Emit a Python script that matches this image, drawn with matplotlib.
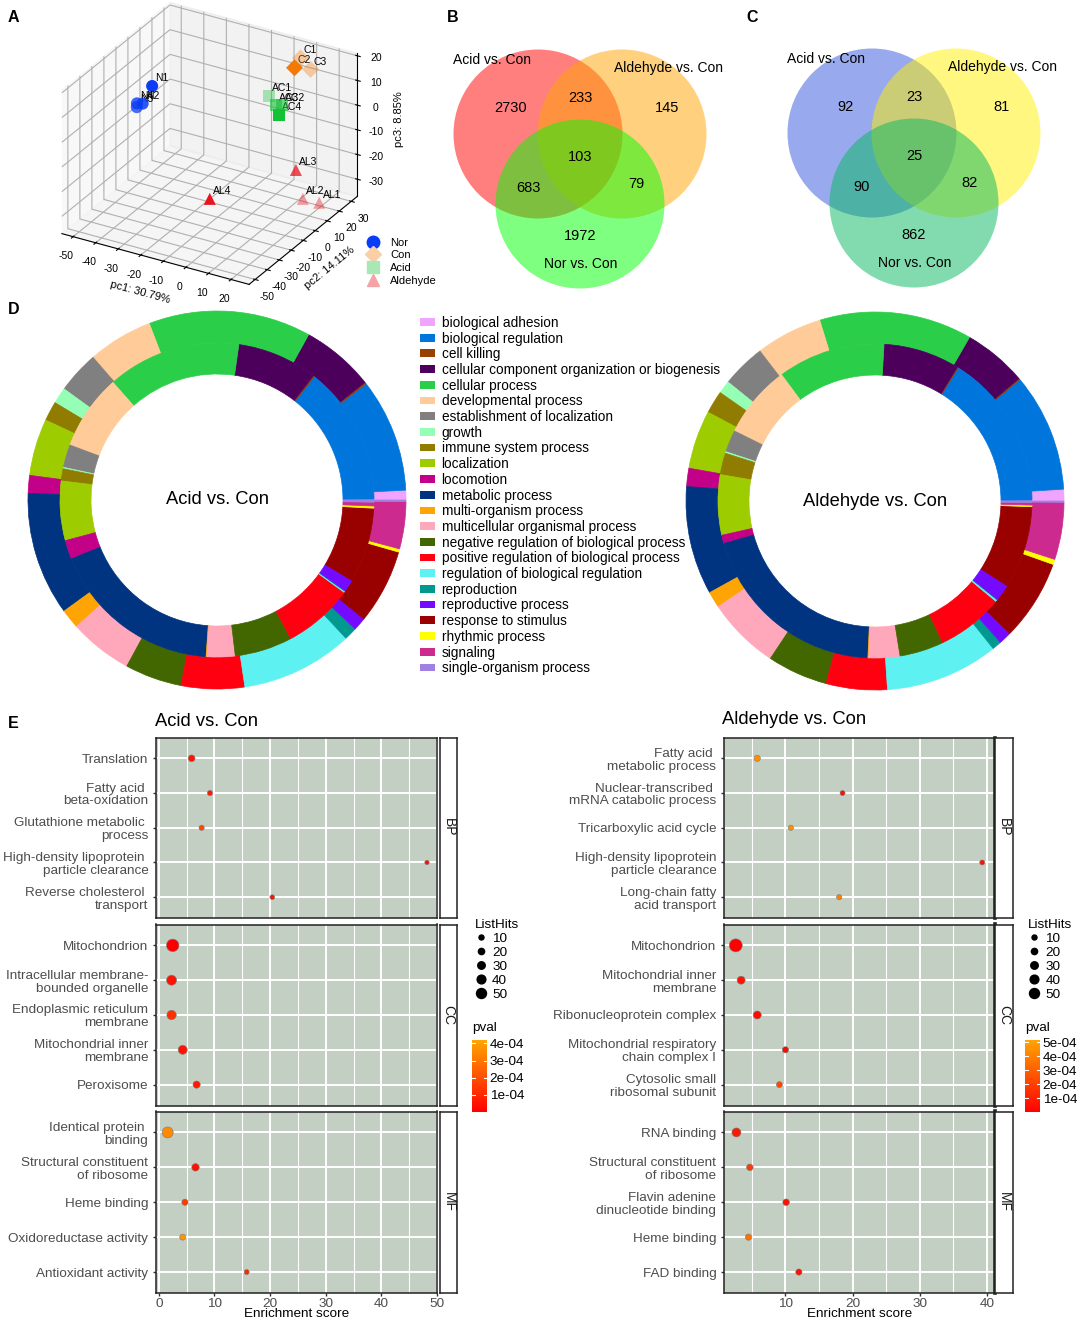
import numpy as np
import matplotlib.pyplot as plt
from matplotlib.patches import Circle, Patch
from matplotlib.lines import Line2D
from matplotlib.colors import LinearSegmentedColormap, Normalize
from matplotlib.cm import ScalarMappable

plt.rcParams['font.family'] = ['Liberation Sans', 'DejaVu Sans']
plt.rcParams['axes.unicode_minus'] = False

W, H = 1084, 1321

# ---------------- data ----------------
# A: PCA scores
nor_names = ['N1', 'N2', 'N3', 'N4']
nor_pc = [(-48, 7, 0), (-49, 1, -5), (-50, -2, -5.5), (-51, 0, -5)]
con_names = ['C1', 'C2', 'C3']
con_pc = [(5, 31, 15), (5, 26, 13), (10, 30, 12)]
acid_names = ['AC1', 'AC2', 'AC3', 'AC4']
acid_pc = [(0, 14, 5), (2, 21, -1), (2, 16, 1), (4, 15, -2)]
ald_names = ['AL1', 'AL2', 'AL3', 'AL4']
ald_pc = [(25, 9, -30), (22, 1, -26), (20, -1, -14), (-15, -7, -32)]

# B, C: Venn counts (A only, A&B, B only, A&B&C, A&C, B&C, C only)
venn_sets = ['Acid vs. Con', 'Aldehyde vs. Con', 'Nor vs. Con']
venn_b = [2730, 233, 145, 103, 683, 79, 1972]
venn_c = [92, 23, 81, 25, 90, 82, 862]

# D: GO level-2 distribution (angular share, degrees)
go_terms = ['biological adhesion', 'biological regulation', 'cell killing',
            'cellular component organization or biogenesis', 'cellular process',
            'developmental process', 'establishment of localization', 'growth',
            'immune system process', 'localization', 'locomotion', 'metabolic process',
            'multi-organism process', 'multicellular organismal process',
            'negative regulation of biological process',
            'positive regulation of biological process',
            'regulation of biological regulation', 'reproduction', 'reproductive process',
            'response to stimulus', 'rhythmic process', 'signaling',
            'single-organism process']
go_colors = ['#F0A3FF', '#0075DC', '#993F00', '#4C005C', '#2BCE48', '#FFCC99',
             '#808080', '#94FFB5', '#8F7C00', '#9DCC00', '#C20088', '#003380',
             '#FFA405', '#FFA8BB', '#426600', '#FF0010', '#5EF1F2', '#00998F',
             '#740AFF', '#990000', '#FFFF00', '#CC2A8F', '#A080E0']
acid_outer = [3.0, 35.0, 0.5, 22.5, 50.0, 20.0, 13.0, 5.0, 6.0, 17.5, 5.5, 38.0,
              6.0, 19.5, 17.5, 19.5, 34.5, 4.0, 4.0, 23.0, 1.0, 14.5, 0.5]
acid_inner = [0.3, 51.4, 0.5, 29.8, 49.5, 28.0, 8.5, 0.5, 4.5, 22.0, 7.0, 64.0,
              0.3, 10.4, 21.3, 26.0, 0.5, 0.2, 4.5, 27.8, 0.8, 1.4, 0.8]
ald_outer = [3.6, 36.4, 0.4, 19.6, 47.0, 20.5, 13.5, 4.0, 7.0, 18.0, 5.6, 33.4,
             5.0, 22.4, 18.6, 18.8, 34.9, 2.9, 3.9, 24.9, 1.6, 17.6, 0.4]
ald_inner = [0.3, 57.7, 0.4, 28.3, 39.8, 27.0, 8.2, 0.6, 8.0, 22.3, 3.1, 71.7,
             0.3, 11.5, 16.4, 24.7, 0.7, 0.2, 6.1, 30.6, 0.6, 0.9, 0.6]

# E: enrichment
acid_ont = ['BP'] * 5 + ['CC'] * 5 + ['MF'] * 5
acid_terms = ['Translation', 'Fatty acid \nbeta-oxidation', 'Glutathione metabolic \nprocess',
              'High-density lipoprotein \nparticle clearance', 'Reverse cholesterol \ntransport',
              'Mitochondrion', 'Intracellular membrane-\nbounded organelle',
              'Endoplasmic reticulum\nmembrane', 'Mitochondrial inner\nmembrane', 'Peroxisome',
              'Identical protein \nbinding', 'Structural constituent\nof ribosome',
              'Heme binding', 'Oxidoreductase activity', 'Antioxidant activity']
acid_score = [5.9, 9.2, 7.7, 48.2, 20.4, 2.5, 2.3, 2.3, 4.3, 6.8, 1.6, 6.6, 4.7, 4.3, 15.8]
acid_hits = [24, 12, 12, 5, 8, 70, 50, 45, 42, 28, 58, 30, 20, 18, 10]
acid_pval = [5e-5, 6e-5, 1.8e-4, 3e-5, 5e-5, 1e-6, 5e-5, 1.2e-4, 5e-5, 6e-5,
             3.5e-4, 4e-5, 1.5e-4, 3.8e-4, 1e-4]

ald_ont = ['BP'] * 5 + ['CC'] * 5 + ['MF'] * 5
ald_terms = ['Fatty acid \nmetabolic process', 'Nuclear-transcribed \nmRNA catabolic process',
             'Tricarboxylic acid cycle', 'High-density lipoprotein\nparticle clearance',
             'Long-chain fatty\nacid transport', 'Mitochondrion', 'Mitochondrial inner\nmembrane',
             'Ribonucleoprotein complex', 'Mitochondrial respiratory\nchain complex I',
             'Cytosolic small\nribosomal subunit', 'RNA binding',
             'Structural constituent\nof ribosome', 'Flavin adenine\ndinucleotide binding',
             'Heme binding', 'FAD binding']
ald_score = [5.8, 18.5, 10.8, 39.3, 18.0, 2.6, 3.4, 5.8, 10.0, 9.1, 2.7, 4.7, 10.1, 4.5, 12.0]
ald_hits = [20, 10, 12, 10, 12, 74, 34, 34, 20, 18, 42, 23, 23, 20, 20]
ald_pval = [4.5e-4, 5e-5, 4.5e-4, 5e-5, 4e-4, 1e-6, 6e-5, 4e-5, 3e-5, 2.2e-4,
            8e-5, 1.8e-4, 5e-5, 3.5e-4, 5e-5]
legend_hits = [10, 20, 30, 40, 50]


def box(x0, y0, x1, y1):
    return [x0 / W, 1 - y1 / H, (x1 - x0) / W, (y1 - y0) / H]


fig = plt.figure(figsize=(W / 100, H / 100), dpi=100)

# overlay axes in pixel coordinates (Venn + panel letters)
ov = fig.add_axes([0, 0, 1, 1])
ov.set_xlim(0, W)
ov.set_ylim(H, 0)
ov.axis('off')
for letter, (lx, ly) in zip('ABCDE', [(8, 17), (447, 17), (746, 17), (8, 310), (8, 723)]):
    ov.text(lx, ly, letter, fontsize=11.5, fontweight='bold', va='center', ha='left')

# ---------------- A: 3D PCA ----------------
ax3 = fig.add_axes(box(-10, -20, 420, 316), projection='3d')
ax3.set_proj_type('ortho')
ax3.view_init(elev=28, azim=-60)
groups = [(nor_names, nor_pc, 'o', '#0A3CF5', [1.0, 0.85, 0.75, 0.8]),
          (con_names, con_pc, 'D', '#F57A05', [0.35, 1.0, 0.35]),
          (acid_names, acid_pc, 's', '#12C235', [0.35, 0.6, 0.6, 1.0]),
          (ald_names, ald_pc, '^', '#E8141E', [0.4, 0.4, 0.75, 1.0])]
for names, pcs, mk, col, shade in groups:
    pcs = np.array(pcs, dtype=float)
    for (x, y, z), nm, a in zip(pcs, names, shade):
        ax3.scatter([x], [y], [z], marker=mk, s=75, color=col, alpha=a,
                    depthshade=False, edgecolors='none')
        ax3.text(x + 1.5, y, z + 1.5, nm, fontsize=7.5, ha='left', va='bottom')
ax3.set_xlim(-55, 28)
ax3.set_ylim(-55, 35)
ax3.set_zlim(-37, 21)
ax3.set_xticks([-50, -40, -30, -20, -10, 0, 10, 20])
ax3.set_yticks([-50, -40, -30, -20, -10, 0, 10, 20, 30])
ax3.set_zticks([-30, -20, -10, 0, 10, 20])
ax3.tick_params(labelsize=7.5, pad=0)
ax3.set_xlabel('pc1: 30.79%', fontsize=8, labelpad=-3)
ax3.set_ylabel('pc2: 14.11%', fontsize=8, labelpad=-3)
ax3.set_zlabel('pc3: 8.85%', fontsize=8, labelpad=-3)
leg_handles = [Line2D([], [], marker='o', ls='', color='#0A3CF5', ms=9),
               Line2D([], [], marker='D', ls='', color='#FBCFA6', ms=8),
               Line2D([], [], marker='s', ls='', color='#A9E8B5', ms=8),
               Line2D([], [], marker='^', ls='', color='#F4A4A7', ms=9)]
fig.legend(leg_handles, ['Nor', 'Con', 'Acid', 'Aldehyde'], loc='upper left',
           bbox_to_anchor=(356 / W, 1 - 232 / H), frameon=False, fontsize=8,
           labelspacing=0.25, handletextpad=0.6, borderpad=0)

# ---------------- B, C: Venn ----------------
def venn(cx, cy, colors, counts, r=84.5):
    centers = [(cx - 42, cy - 35), (cx + 42, cy - 35), (cx, cy + 35)]
    for (x, y), c in zip(centers, colors):
        ov.add_patch(Circle((x, y), r, facecolor=c, alpha=0.5, edgecolor='none'))
    offsets = [(-69, -61), (0, -71), (87, -61), (0, -12), (-52, 19), (56, 15), (0, 67)]
    for (dx, dy), n in zip(offsets, counts):
        ov.text(cx + dx, cy + dy, str(n), fontsize=10.5, ha='center', va='center')
    ov.text(cx - 88, cy - 109, venn_sets[0], fontsize=10, ha='center', va='center')
    ov.text(cx + 88, cy - 101, venn_sets[1], fontsize=10, ha='center', va='center')
    ov.text(cx + 1, cy + 95, venn_sets[2], fontsize=10, ha='center', va='center')


venn(580, 169, ['#FF0000', '#FFA500', '#00FF00'], venn_b)
venn(914, 168, ['#3355DD', '#FFF000', '#05B961'], venn_c)

# ---------------- D: donuts ----------------
def donut(cx, cy, outer, inner, label, R=189):
    ax = fig.add_axes(box(cx - R, cy - R, cx + R, cy + R))
    w1 = ax.pie(outer, colors=go_colors, startangle=0, radius=1.0, labeldistance=None,
                wedgeprops=dict(width=1 - 157 / R, linewidth=0.5))[0]
    w2 = ax.pie(inner, colors=go_colors, startangle=0, radius=157 / R, labeldistance=None,
                wedgeprops=dict(width=(157 - 126) / R, linewidth=0.5))[0]
    for w in list(w1) + list(w2):
        w.set_edgecolor(w.get_facecolor())
    ax.set_xlim(-1, 1)
    ax.set_ylim(-1, 1)
    ax.set_aspect('equal')
    ax.axis('off')
    ax.text(0, 0, label, fontsize=13.2, ha='center', va='center')


donut(217, 500, acid_outer, acid_inner, 'Acid vs. Con')
donut(875, 501, ald_outer, ald_inner, 'Aldehyde vs. Con')
go_handles = [Patch(facecolor=c, edgecolor='none') for c in go_colors]
fig.legend(go_handles, go_terms, loc='upper left', bbox_to_anchor=(413 / W, 1 - 309 / H),
           frameon=False, fontsize=9.8, handlelength=1.1, handleheight=0.5,
           labelspacing=0.125, handletextpad=0.5, borderpad=0)

# ---------------- E: enrichment dot plots ----------------
cmap = LinearSegmentedColormap.from_list('redorange', ['#FF0000', '#FFA500'])


def hit_size(v):
    d = 3.75 + 0.125 * np.asarray(v, dtype=float)
    return (d * 0.72) ** 2


facet_rows = [('BP', 737.5, 918), ('CC', 924.5, 1105.5), ('MF', 1111.5, 1293)]


def enrichment(terms, ont, score, hits, pval, x0, x1, xlim, xticks, vmax, strip_x, thick):
    norm = Normalize(0, vmax)
    terms = np.array(terms)
    ont = np.array(ont)
    score = np.array(score)
    hits = np.array(hits)
    pval = np.array(pval)
    for k, (name, y0, y1) in enumerate(facet_rows):
        ax = fig.add_axes(box(x0, y0, x1, y1))
        m = ont == name
        n = m.sum()
        ypos = np.arange(n, 0, -1)
        ax.set_facecolor('#C3CFC3')
        for xv in np.arange(0, xlim[1] + 5, 5):
            ax.axvline(xv, color='white', lw=1.4 if xv % 10 == 0 else 0.8, zorder=0)
        for yv in ypos:
            ax.axhline(yv, color='white', lw=1.4, zorder=0)
        ax.scatter(score[m], ypos, s=hit_size(hits[m]), c=pval[m], cmap=cmap, norm=norm,
                   edgecolors='#7A7A7A', linewidths=0.4, zorder=3)
        ax.set_xlim(*xlim)
        ax.set_ylim(0.4, n + 0.6)
        ax.set_yticks(ypos)
        ax.set_yticklabels(terms[m], fontsize=9.7, color='#4D4D4D', ha='right',
                           multialignment='right', linespacing=1.1)
        ax.tick_params(axis='y', length=2.5, width=1, pad=3, color='#333333')
        ax.set_xticks(xticks)
        if k < 2:
            ax.tick_params(axis='x', length=0, labelbottom=False)
        else:
            ax.tick_params(axis='x', length=2.5, width=1, labelsize=9.7, labelcolor='#4D4D4D',
                           pad=1, color='#333333')
            ax.set_xlabel('Enrichment score', fontsize=9.7, labelpad=-1)
        for sp in ax.spines.values():
            sp.set_linewidth(1.1)
            sp.set_color('#222222')
        if thick:
            ax.spines['right'].set_linewidth(2.6)
        sa = fig.add_axes(box(strip_x[0], y0, strip_x[1], y1))
        sa.set_xticks([])
        sa.set_yticks([])
        for sp in sa.spines.values():
            sp.set_linewidth(1.1)
            sp.set_color('#222222')
        sa.text(0.5, 0.5, name, rotation=-90, ha='center', va='center', fontsize=10,
                color='#1A1A1A', transform=sa.transAxes)
    return norm


norm_l = enrichment(acid_terms, acid_ont, acid_score, acid_hits, acid_pval, 156, 437,
                    (-0.5, 50), [0, 10, 20, 30, 40, 50], 4.2e-4, (440, 457), False)
norm_r = enrichment(ald_terms, ald_ont, ald_score, ald_hits, ald_pval, 724, 995,
                    (0.85, 41.2), [10, 20, 30, 40], 5.15e-4, (995, 1013), True)
fig.text(155 / W, 1 - 722 / H, 'Acid vs. Con', fontsize=13.2, va='center', ha='left')
fig.text(722 / W, 1 - 720 / H, 'Aldehyde vs. Con', fontsize=13.2, va='center', ha='left')


def side_legend(x, norm, ticks):
    hh = [Line2D([], [], marker='o', ls='', color='black', ms=np.sqrt(hit_size(v)))
          for v in legend_hits]
    lg = fig.legend(hh, [str(v) for v in legend_hits], title='ListHits', loc='upper left',
                    bbox_to_anchor=(x / W, 1 - 912 / H), frameon=False, fontsize=9.7,
                    title_fontsize=9.7, labelspacing=0.12, handletextpad=0.3, borderpad=0,
                    handlelength=1.0)
    lg._legend_box.align = 'left'
    cax = fig.add_axes(box(x + 4, 1040, x + 19, 1112))
    cb = fig.colorbar(ScalarMappable(norm=norm, cmap=cmap), cax=cax)
    cb.outline.set_visible(False)
    cb.set_ticks(ticks)
    cb.set_ticklabels(['%de-04' % round(t * 1e4) for t in ticks])
    cax.tick_params(length=0, labelsize=9.7, pad=2)
    for t in ticks:
        cax.plot([0, 0.2], [t, t], color='white', lw=0.8)
        cax.plot([0.8, 1], [t, t], color='white', lw=0.8)
    fig.text((x + 4) / W, 1 - 1028 / H, 'pval', fontsize=9.7, va='center', ha='left')


side_legend(468, norm_l, [1e-4, 2e-4, 3e-4, 4e-4])
side_legend(1021, norm_r, [1e-4, 2e-4, 3e-4, 4e-4, 5e-4])

fig.savefig('out.png', dpi=100)
